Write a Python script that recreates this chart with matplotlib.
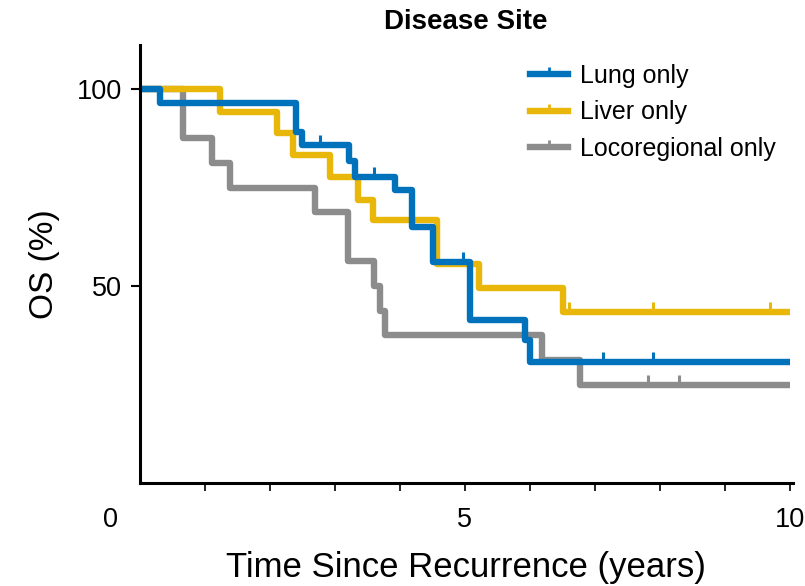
import matplotlib
matplotlib.use("Agg")
import matplotlib.pyplot as plt
import matplotlib.transforms as mtransforms
from matplotlib.lines import Line2D
from matplotlib import font_manager

# step curves (years, OS %)
lung_t = [0, 0.32, 2.41, 2.5, 3.22, 3.32, 3.93, 4.19, 4.52, 5.08, 5.93, 6.0, 10]
lung_s = [100, 96.4, 89.0, 85.8, 81.8, 77.7, 74.4, 65.0, 56.1, 41.4, 36.3, 30.7, 30.7]
lung_cens = [2.78, 3.6, 4.98, 7.13, 7.9]

liver_t = [0, 1.24, 2.12, 2.36, 2.93, 3.36, 3.59, 4.58, 5.22, 6.52, 10]
liver_s = [100, 94.2, 88.8, 83.2, 77.7, 71.8, 66.8, 55.5, 49.5, 43.4, 43.4]
liver_cens = [6.6, 7.9, 9.7]

loco_t = [0, 0.67, 1.12, 1.39, 2.7, 3.21, 3.6, 3.7, 3.78, 6.19, 6.78, 10]
loco_s = [100, 87.5, 81.25, 75, 68.75, 56.25, 50, 43.75, 37.5, 31.25, 25, 25]
loco_cens = [7.82, 8.3]

labels = ["Lung only", "Liver only", "Locoregional only"]
colors = ["#0072BC", "#E8B70A", "#8C8C8C"]

xticks_major = [0, 5, 10]
yticks = [50, 100]

names = {f.name for f in font_manager.fontManager.ttflist}
narrow = "Liberation Sans Narrow" if "Liberation Sans Narrow" in names else "Liberation Sans"
plt.rcParams["font.family"] = ["Liberation Sans", "DejaVu Sans"]


def surv_at(ts, ss, x):
    # survival value of a step curve at time x
    val = ss[0]
    for t, s in zip(ts, ss):
        if t <= x:
            val = s
    return val


fig = plt.figure(figsize=(8.05, 5.86), dpi=100)
ax = fig.add_axes([0.1733, 0.1758, 0.8117, 0.7474])

series = [
    (loco_t, loco_s, loco_cens, colors[2]),
    (liver_t, liver_s, liver_cens, colors[1]),
    (lung_t, lung_s, lung_cens, colors[0]),
]
for ts, ss, cens, col in series:
    ax.step(ts, ss, where="post", color=col, lw=4.6, solid_capstyle="butt")
    cy = [surv_at(ts, ss, c) for c in cens]
    ax.plot(cens, cy, ls="none", marker=2, ms=7, mew=2.2, color=col)

ax.set_xlim(0, 10.05)
ax.set_ylim(0, 111.2)

for side in ["top", "right"]:
    ax.spines[side].set_visible(False)
for side in ["left", "bottom"]:
    ax.spines[side].set_linewidth(2.2)

ax.set_xticks(range(1, 11))
ax.set_xticklabels([])
ax.tick_params(axis="x", length=5.5, width=1.2, direction="out")
ax.set_yticks(yticks)
ax.set_yticklabels([str(v) for v in yticks], fontsize=19.5, family=narrow)
ax.tick_params(axis="y", length=6.5, width=1.5, pad=6)

# x labels drawn as text so the "0" can sit left of the corner like the original
for v in xticks_major:
    dx = -29 / 100 if v == 0 else 0
    off = mtransforms.ScaledTranslation(dx, 0, fig.dpi_scale_trans)
    ax.text(v, -9.4, str(v), transform=ax.transData + off, ha="center", va="center",
            fontsize=19.5, family=narrow, clip_on=False)

ax.set_xlabel("Time Since Recurrence (years)", fontsize=25, family=narrow, labelpad=40)
ax.set_ylabel("OS (%)", fontsize=24, family=narrow, labelpad=12)
ax.set_title("Disease Site", fontsize=20, fontweight="bold", family=narrow, pad=11.5)

handles = [Line2D([], [], color=c, lw=4.6, marker=2, ms=5, mew=2) for c in colors]
ax.legend(handles, labels, loc="upper right", bbox_to_anchor=(1.0, 0.997), frameon=False,
          fontsize=18, handlelength=1.55, handletextpad=0.45, labelspacing=0.5,
          borderaxespad=0.3)

fig.savefig("out.png", dpi=100)
